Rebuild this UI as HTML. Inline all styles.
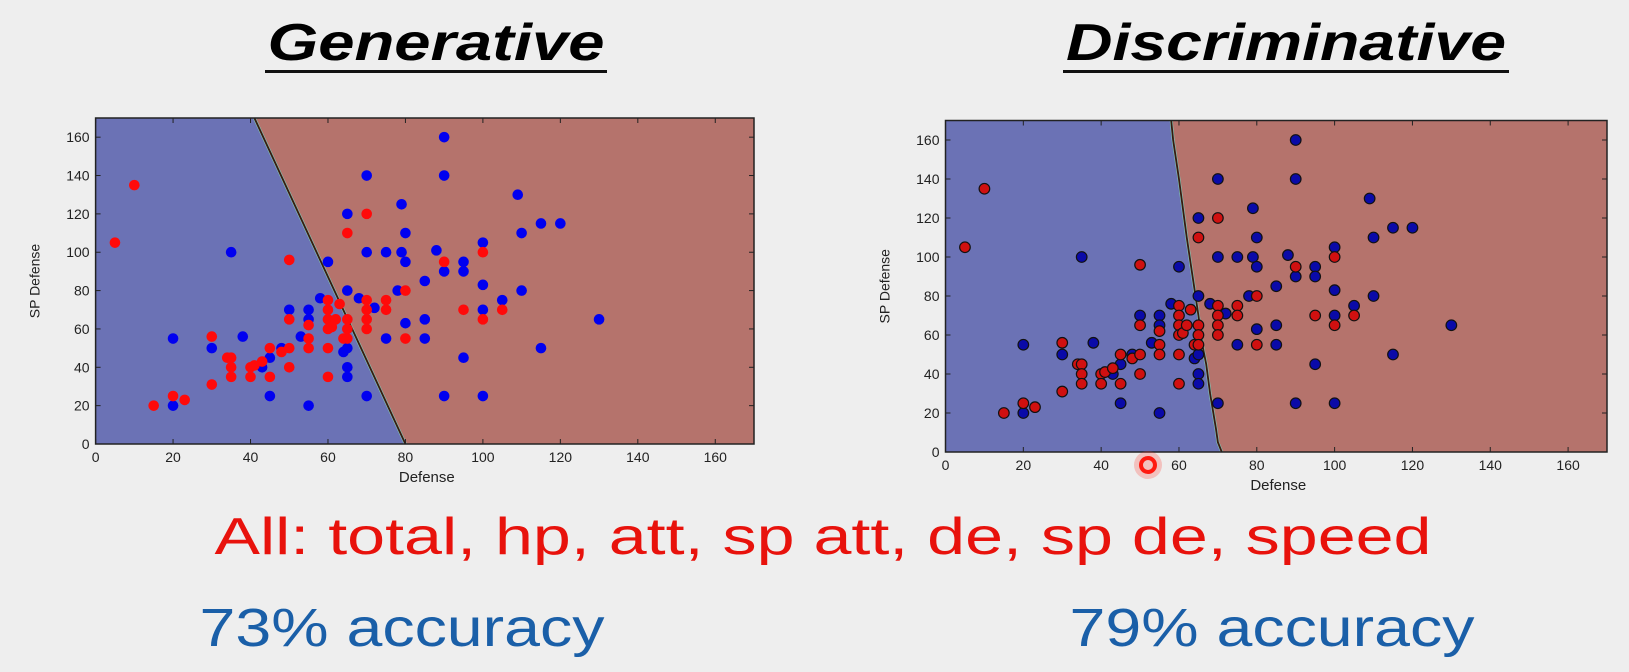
<!DOCTYPE html>
<html><head><meta charset="utf-8">
<style>
html,body{margin:0;padding:0;background:#eeeeee;}
svg{display:block;font-family:"Liberation Sans",sans-serif;}
</style></head>
<body>
<svg id="root" width="1629" height="672" viewBox="0 0 1629 672" xmlns="http://www.w3.org/2000/svg">
<rect width="1629" height="672" fill="#eeeeee"/>
<text x="436" y="60" text-anchor="middle" font-size="52" font-weight="bold" font-style="italic" textLength="337" lengthAdjust="spacingAndGlyphs">Generative</text>
<rect x="265" y="70" width="342" height="3" fill="#111"/>
<text x="1286" y="60" text-anchor="middle" font-size="52" font-weight="bold" font-style="italic" textLength="440" lengthAdjust="spacingAndGlyphs">Discriminative</text>
<rect x="1063" y="70" width="446" height="3" fill="#111"/>
<g id="p1"></g>
<g id="p2"></g>
<text x="823" y="554" text-anchor="middle" font-size="52" fill="#e8120c" textLength="1217" lengthAdjust="spacingAndGlyphs">All: total, hp, att, sp att, de, sp de, speed</text>
<text x="402" y="646" text-anchor="middle" font-size="54" fill="#1a5fa8" textLength="405" lengthAdjust="spacingAndGlyphs">73% accuracy</text>
<text x="1272" y="646" text-anchor="middle" font-size="54" fill="#1a5fa8" textLength="405" lengthAdjust="spacingAndGlyphs">79% accuracy</text>
<circle cx="1148" cy="465" r="14" fill="#ff3b2f" opacity="0.25"/>
<circle cx="1148" cy="465" r="7" fill="none" stroke="#ff1a10" stroke-width="4"/>
</svg>
<script>
const blueX=[20,20,30,35,38,43,45,45,48,50,53,55,55,55,58,60,64,65,65,65,65,65,68,70,70,70,72,75,75,78,79,79,80,80,80,85,85,85,88,90,90,90,90,95,95,95,100,100,100,100,105,109,110,110,115,115,120,130];
const blueY=[55,20,50,100,56,40,45,25,50,70,56,70,65,20,76,95,48,50,40,35,80,120,76,140,100,25,71,100,55,80,125,100,110,95,63,85,65,55,101,160,140,90,25,95,90,45,105,83,70,25,75,130,110,80,115,50,115,65];
const redX=[5,10,15,20,23,30,30,34,35,35,35,40,41,43,40,45,45,48,50,50,50,50,55,55,55,60,60,60,60,61,62,60,60,63,65,65,64,65,70,65,70,70,70,70,75,75,80,80,90,95,100,100,105];
const redY=[105,135,20,25,23,56,31,45,45,40,35,40,41,43,35,50,35,48,50,65,40,96,62,55,50,75,70,65,60,61,65,50,35,73,65,60,55,55,120,110,75,70,65,60,75,70,80,55,95,70,100,65,70];
const ticks=[0,20,40,60,80,100,120,140,160];
const genBoundaryX=[41,80];
const genBoundaryY=[170,0];
const discBoundaryX=[58,58.5,60,62,63.5,65,66,67,68,69.5,70,71];
const discBoundaryY=[170,160,140,110,90,70,55,45,30,12,5,0];
const NS="http://www.w3.org/2000/svg";
function mk(t,a,p){const e=document.createElementNS(NS,t);for(const k in a)e.setAttribute(k,a[k]);p.appendChild(e);return e;}
function plot(g,L,R,B,T,bx,by,edge,prefix){
  const sx=v=>L+(v/170)*(R-L), sy=v=>B-(v/170)*(B-T);
  const bg=mk('rect',{x:L,y:T,width:R-L,height:B-T,fill:'#b5736c'},g);
  
  
  let pts=`${sx(0)},${sy(0)} ${sx(0)},${sy(170)}`;
  let line='';
  for(let i=0;i<bx.length;i++){pts+=` ${sx(bx[i])},${sy(by[i])}`;line+=`${i?'L':'M'}${sx(bx[i])},${sy(by[i])}`;}
  const bl=mk('polygon',{points:pts,fill:'#6b72b5'},g);
  
  
  const l2=mk('path',{d:line,stroke:'#7fc6b5',"stroke-width":3,fill:'none'},g);
  
  
  const l1=mk('path',{d:line,stroke:'#3a1a10',"stroke-width":1.8,fill:'none'},g);
  
  
  const fr=mk('rect',{x:L,y:T,width:R-L,height:B-T,fill:'none',stroke:'#222',"stroke-width":1.5},g);
  
  
  ticks.forEach(t=>{
    const x=sx(t),y=sy(t);
    mk('line',{x1:x,y1:B,x2:x,y2:B-5,stroke:'#222'},g);
    mk('line',{x1:x,y1:T,x2:x,y2:T+5,stroke:'#222'},g);
    mk('line',{x1:L,y1:y,x2:L+5,y2:y,stroke:'#222'},g);
    mk('line',{x1:R,y1:y,x2:R-5,y2:y,stroke:'#222'},g);
    const xl=mk('text',{x:x,y:B+18,"text-anchor":"middle","font-size":14,fill:'#222'},g);xl.textContent=t;
    
    
    const yl=mk('text',{x:L-6,y:y+5,"text-anchor":"end","font-size":14,fill:'#222'},g);yl.textContent=t;
    
    
  });
  const xt=mk('text',{x:(L+R)/2+2,y:B+38,"text-anchor":"middle","font-size":15,fill:'#222'},g);xt.textContent='Defense';
  
  
  const yx=L-56,yy=(T+B)/2;
  const yt=mk('text',{x:yx,y:yy,"text-anchor":"middle","font-size":14,fill:'#222',transform:`rotate(-90 ${yx} ${yy})`},g);yt.textContent='SP Defense';
  
  
  const st=edge?{stroke:'#111',"stroke-width":1.2}:{};
  blueX.forEach((v,i)=>{const c=mk('circle',Object.assign({cx:sx(v),cy:sy(blueY[i]),r:5.3,fill:edge?'#0a0aa8':'#0000f0'},st),g);
    
    });
  redX.forEach((v,i)=>{const c=mk('circle',Object.assign({cx:sx(v),cy:sy(redY[i]),r:5.3,fill:edge?'#d01010':'#ff0a0a'},st),g);
    
    });
}
plot(document.getElementById('p1'),95.6,754,444,118,genBoundaryX,genBoundaryY,false,'gen');
plot(document.getElementById('p2'),945.5,1607,452,120.5,discBoundaryX,discBoundaryY,true,'disc');
</script>
</body></html>
